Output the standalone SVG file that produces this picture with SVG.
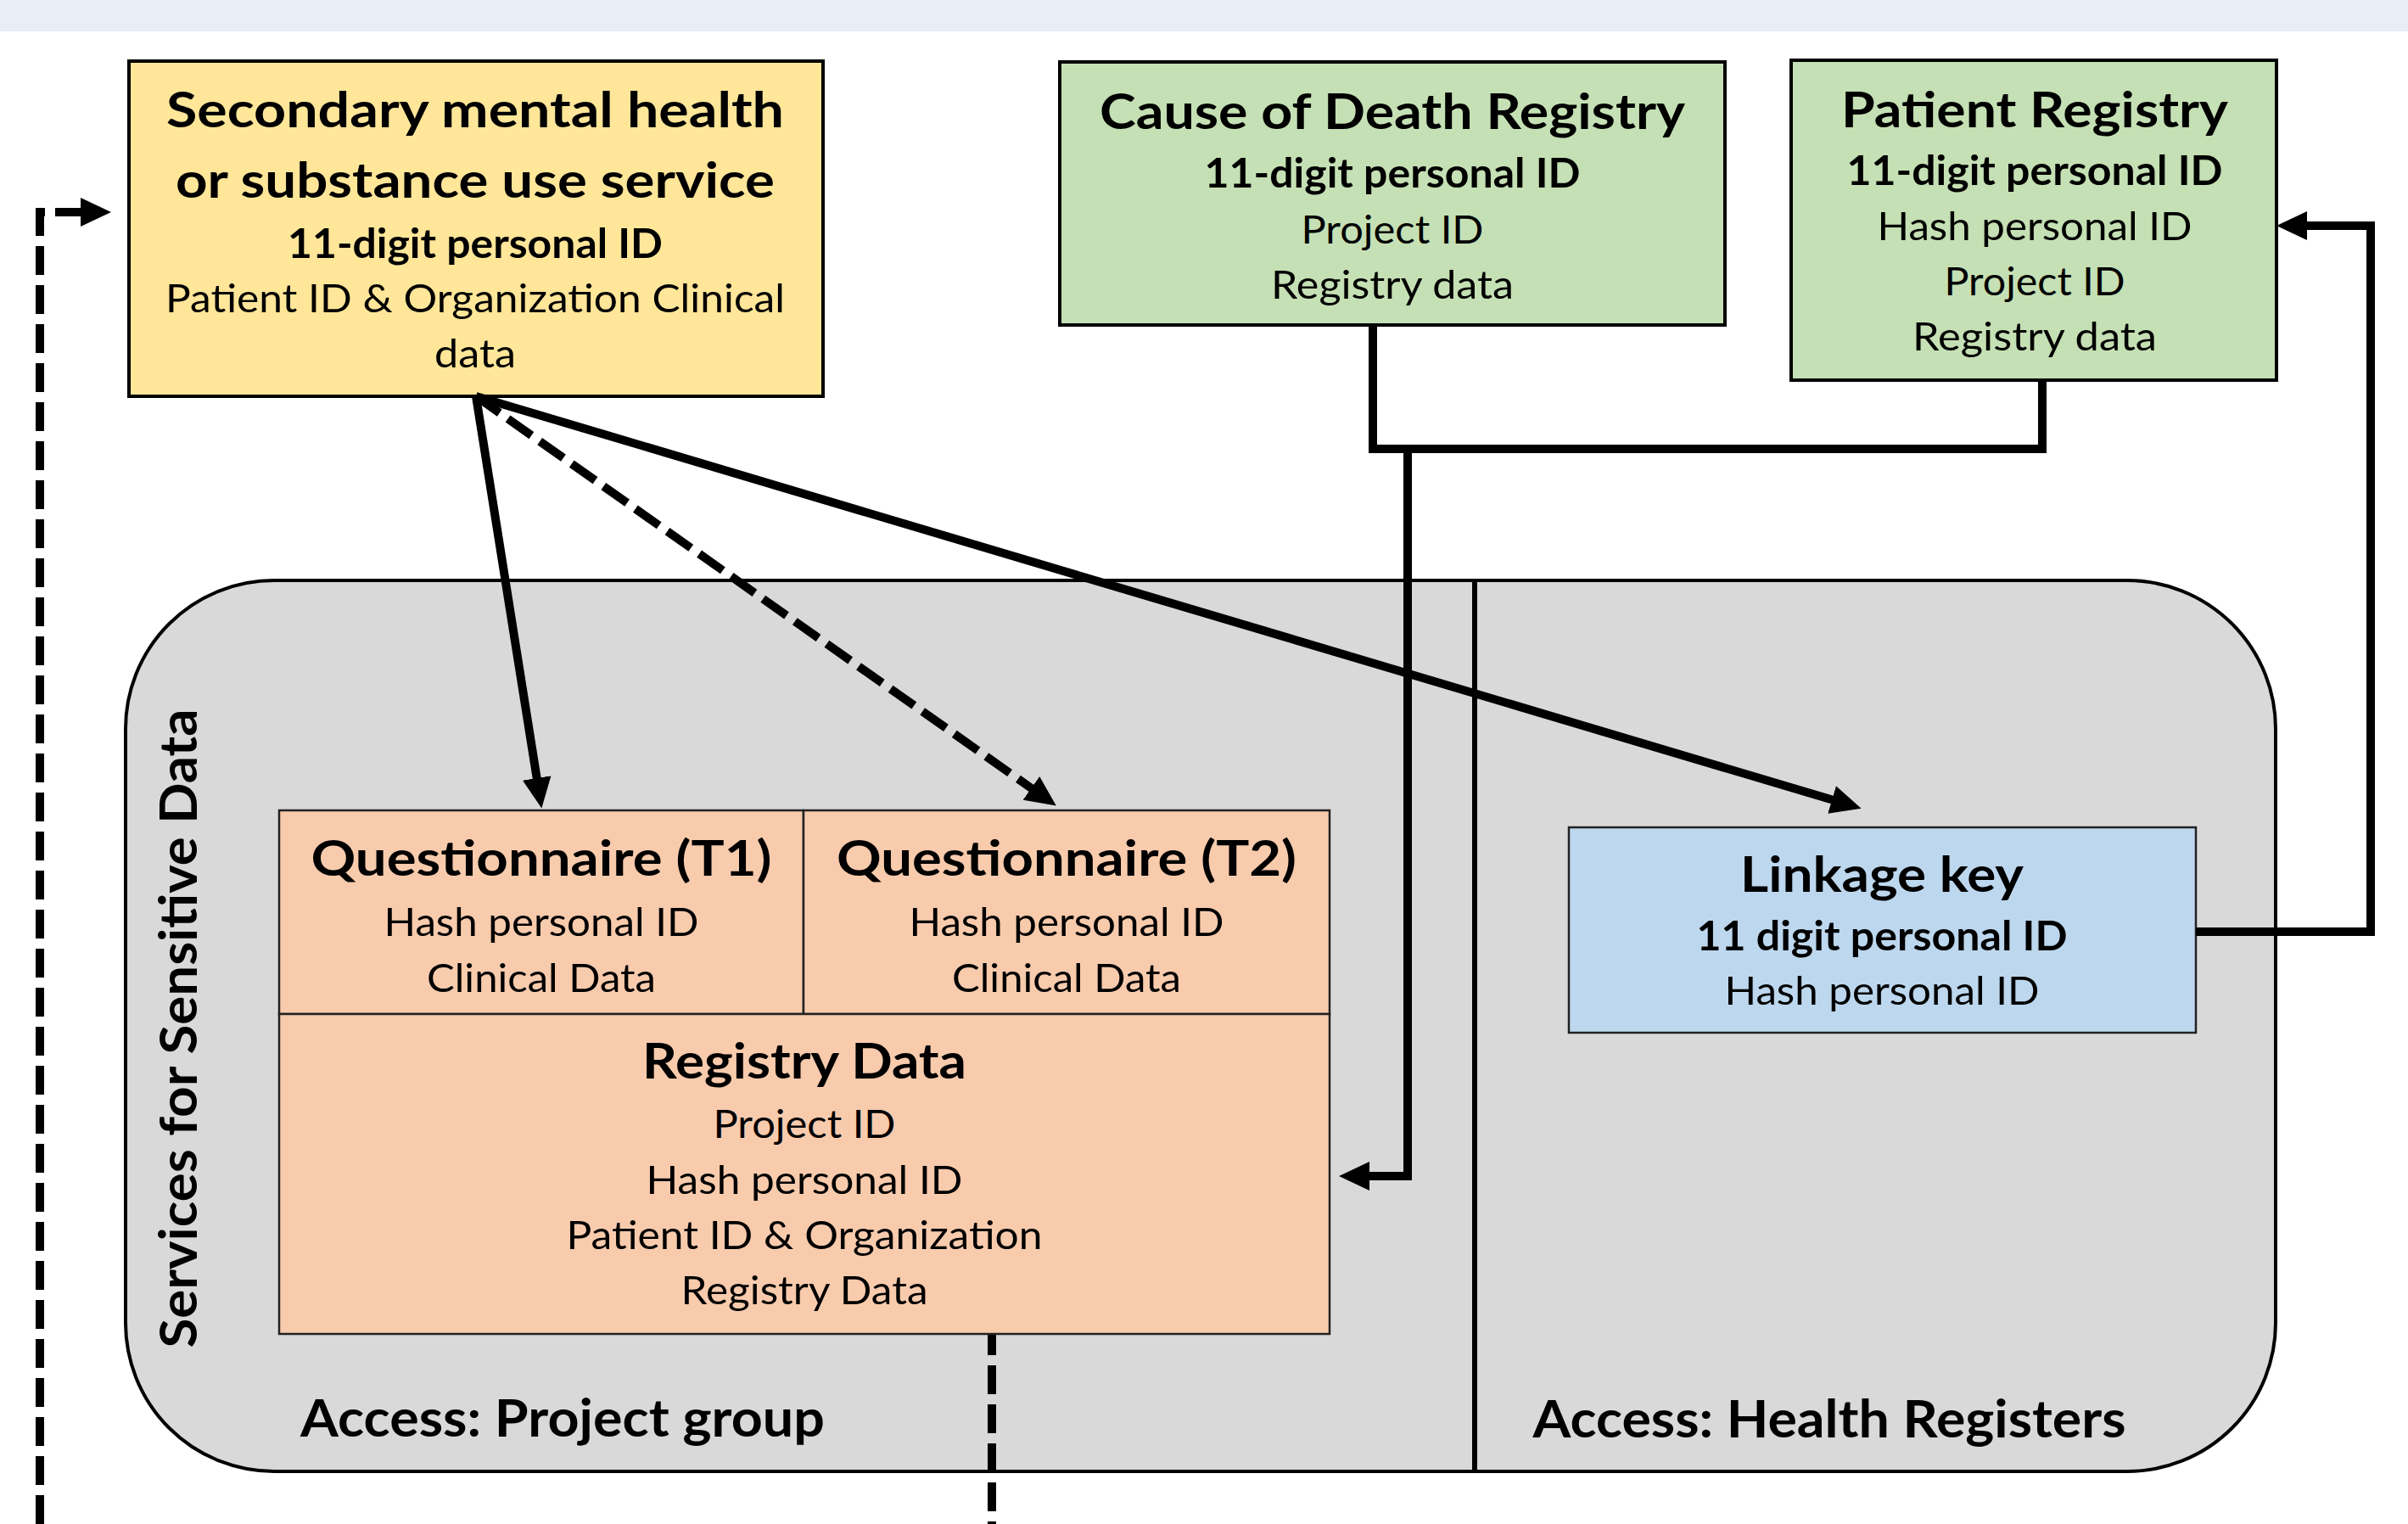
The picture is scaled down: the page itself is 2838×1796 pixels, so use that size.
<svg xmlns="http://www.w3.org/2000/svg" width="2838" height="1796" viewBox="0 0 2838 1796">
<defs>
<style>
text{font-family:Lato,Carlito,"Liberation Sans",sans-serif;fill:#000;text-anchor:middle}
.t{font-size:57px;font-weight:700}
.b{font-size:47px;font-weight:400}
.bb{font-size:47px;font-weight:700}
.lab{font-size:62px;font-weight:700}
.box{stroke:#000;stroke-width:4}
.cell{stroke:#222;stroke-width:2.5}
.c{fill:none;stroke:#000;stroke-width:10}
.d{fill:none;stroke:#000;stroke-width:10;stroke-dasharray:34 12}
</style>
<marker id="ah" markerUnits="userSpaceOnUse" markerWidth="36" markerHeight="34" refX="2" refY="17" orient="auto">
<path d="M0,0 L36,17 L0,34 Z" fill="#000"/>
</marker>
</defs>
<rect x="0" y="0" width="2838" height="1796" fill="#fff"/>
<rect x="0" y="0" width="2838" height="37" fill="#e8eef6"/>

<g id="sensitive-data-services">
<rect x="148" y="684" width="2534" height="1050" rx="175" ry="175" fill="#d9d9d9" stroke="#000" stroke-width="4"/>
<line x1="1738" y1="684" x2="1738" y2="1733" stroke="#000" stroke-width="6"/>
<text class="lab" transform="translate(232,1212) rotate(-90)" textLength="753" lengthAdjust="spacingAndGlyphs">Services for Sensitive Data</text>
<text class="lab" x="663" y="1693" textLength="618" lengthAdjust="spacingAndGlyphs">Access: Project group</text>
<text class="lab" x="2156" y="1694" textLength="699" lengthAdjust="spacingAndGlyphs">Access: Health Registers</text>
</g>

<g id="secondary-service">
<rect class="box" x="152" y="72" width="818" height="395" fill="#ffe699"/>
<text class="t" x="560" y="150" textLength="728" lengthAdjust="spacingAndGlyphs">Secondary mental health</text>
<text class="t" x="560" y="233" textLength="706" lengthAdjust="spacingAndGlyphs">or substance use service</text>
<text class="bb" x="560" y="304" textLength="442" lengthAdjust="spacingAndGlyphs">11-digit personal ID</text>
<text class="b" x="560" y="368" textLength="730" lengthAdjust="spacingAndGlyphs">Patient ID &amp; Organization Clinical</text>
<text class="b" x="560" y="433" textLength="96" lengthAdjust="spacingAndGlyphs">data</text>
</g>

<g id="cause-of-death-registry">
<rect class="box" x="1249" y="73" width="784" height="310" fill="#c5e0b4"/>
<text class="t" x="1641" y="152" textLength="690" lengthAdjust="spacingAndGlyphs">Cause of Death Registry</text>
<text class="bb" x="1641" y="221" textLength="443" lengthAdjust="spacingAndGlyphs">11-digit personal ID</text>
<text class="b" x="1641" y="287" textLength="215" lengthAdjust="spacingAndGlyphs">Project ID</text>
<text class="b" x="1641" y="352" textLength="286" lengthAdjust="spacingAndGlyphs">Registry data</text>
</g>

<g id="patient-registry">
<rect class="box" x="2111" y="71" width="572" height="377" fill="#c5e0b4"/>
<text class="t" x="2398" y="150" textLength="456" lengthAdjust="spacingAndGlyphs">Patient Registry</text>
<text class="bb" x="2398" y="218" textLength="443" lengthAdjust="spacingAndGlyphs">11-digit personal ID</text>
<text class="b" x="2398" y="283" textLength="371" lengthAdjust="spacingAndGlyphs">Hash personal ID</text>
<text class="b" x="2398" y="348" textLength="213" lengthAdjust="spacingAndGlyphs">Project ID</text>
<text class="b" x="2398" y="413" textLength="288" lengthAdjust="spacingAndGlyphs">Registry data</text>
</g>

<g id="questionnaire-t1">
<rect class="cell" x="329" y="955" width="618" height="240" fill="#f8cbad"/>
<text class="t" x="638" y="1032" textLength="543" lengthAdjust="spacingAndGlyphs">Questionnaire (T1)</text>
<text class="b" x="638" y="1103" textLength="371" lengthAdjust="spacingAndGlyphs">Hash personal ID</text>
<text class="b" x="638" y="1169" textLength="270" lengthAdjust="spacingAndGlyphs">Clinical Data</text>
</g>

<g id="questionnaire-t2">
<rect class="cell" x="947" y="955" width="620" height="240" fill="#f8cbad"/>
<text class="t" x="1257" y="1032" textLength="542" lengthAdjust="spacingAndGlyphs">Questionnaire (T2)</text>
<text class="b" x="1257" y="1103" textLength="371" lengthAdjust="spacingAndGlyphs">Hash personal ID</text>
<text class="b" x="1257" y="1169" textLength="270" lengthAdjust="spacingAndGlyphs">Clinical Data</text>
</g>

<g id="registry-data">
<rect class="cell" x="329" y="1195" width="1238" height="377" fill="#f8cbad"/>
<text class="t" x="948" y="1271" textLength="382" lengthAdjust="spacingAndGlyphs">Registry Data</text>
<text class="b" x="948" y="1341" textLength="215" lengthAdjust="spacingAndGlyphs">Project ID</text>
<text class="b" x="948" y="1407" textLength="373" lengthAdjust="spacingAndGlyphs">Hash personal ID</text>
<text class="b" x="948" y="1472" textLength="561" lengthAdjust="spacingAndGlyphs">Patient ID &amp; Organization</text>
<text class="b" x="948" y="1537" textLength="291" lengthAdjust="spacingAndGlyphs">Registry Data</text>
</g>

<g id="linkage-key">
<rect class="cell" x="1849" y="975" width="739" height="242" fill="#bdd7ee"/>
<text class="t" x="2218" y="1051" textLength="334" lengthAdjust="spacingAndGlyphs">Linkage key</text>
<text class="bb" x="2218" y="1120" textLength="437" lengthAdjust="spacingAndGlyphs">11 digit personal ID</text>
<text class="b" x="2218" y="1184" textLength="371" lengthAdjust="spacingAndGlyphs">Hash personal ID</text>
</g>

<g id="connectors">
<line class="c" x1="561" y1="467" x2="633" y2="919" marker-end="url(#ah)"/>
<line class="d" x1="561" y1="467" x2="1217" y2="930" marker-end="url(#ah)"/>
<line class="c" x1="561" y1="467" x2="2161" y2="943" marker-end="url(#ah)"/>
<path class="c" d="M1618,383 V529 H2407 V448" stroke-linejoin="miter"/>
<path class="c" d="M1659,529 V1386 H1612" marker-end="url(#ah)"/>
<path class="c" d="M2588,1098 H2794 V266 H2717" marker-end="url(#ah)"/>
<path class="d" d="M47,1796 V250 H97" marker-end="url(#ah)"/>
<line class="d" x1="1169" y1="1573" x2="1169" y2="1796" stroke-dashoffset="10"/>
</g>
</svg>
